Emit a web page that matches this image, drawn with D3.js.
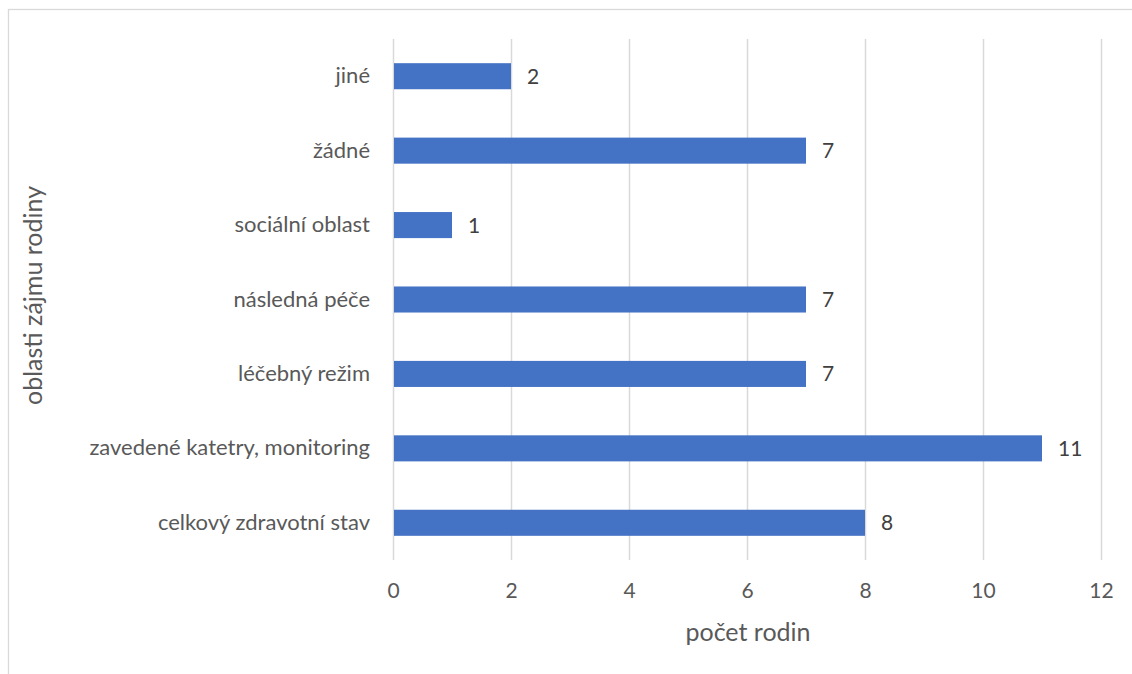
<!DOCTYPE html>
<html>
<head>
<meta charset="utf-8">
<script src="https://cdn.jsdelivr.net/npm/d3@7"></script>
<style>
  html, body { margin: 0; padding: 0; background: #fff; }
  svg { display: block; }
  text { font-family: Lato, "Open Sans", sans-serif; }
</style>
</head>
<body>
<svg id="chart" width="1132" height="674"></svg>
<script>
// Areas of family interest and number of families
const categories = [
  "jiné",
  "žádné",
  "sociální oblast",
  "následná péče",
  "léčebný režim",
  "zavedené katetry, monitoring",
  "celkový zdravotní stav"
];
const values = [2, 7, 1, 7, 7, 11, 8];
const xTicks = [0, 2, 4, 6, 8, 10, 12];
const xTitle = "počet rodin";
const yTitle = "oblasti zájmu rodiny";

const svg = d3.select("#chart");
const W = 1132, H = 674;
const margin = { left: 393, right: W - 1101, top: 39, bottom: H - 560 };
const plotW = W - margin.left - margin.right;
const plotH = H - margin.top - margin.bottom;
const FONT = "Lato, 'Open Sans', sans-serif";

// outer chart frame
svg.append("rect")
  .attr("x", 8.5).attr("y", 9.5)
  .attr("width", W).attr("height", H)
  .attr("fill", "none")
  .attr("stroke", "#d9d9d9")
  .attr("stroke-width", 1.3);

const g = svg.append("g").attr("transform", `translate(${margin.left},${margin.top})`);

const x = d3.scaleLinear().domain([0, 12]).range([0, plotW]);
const y = d3.scaleBand().domain(categories).range([0, plotH]).paddingInner(0.65).paddingOuter(0.325);

// vertical gridlines
g.append("g")
  .selectAll("line")
  .data(xTicks)
  .join("line")
  .attr("x1", d => Math.round(x(d)) + 0.5)
  .attr("x2", d => Math.round(x(d)) + 0.5)
  .attr("y1", 0)
  .attr("y2", plotH)
  .attr("stroke", "#d9d9d9")
  .attr("stroke-width", 1.5);

// bars
g.append("g")
  .selectAll("rect")
  .data(categories)
  .join("rect")
  .attr("x", x(0) + 1)
  .attr("y", d => y(d))
  .attr("width", (d, i) => x(values[i]) - x(0) - 1)
  .attr("height", y.bandwidth())
  .attr("fill", "#4472c4");

// value labels
g.append("g")
  .selectAll("text")
  .data(categories)
  .join("text")
  .attr("x", (d, i) => x(values[i]) + 16)
  .attr("y", d => y(d) + y.bandwidth() / 2)
  .attr("dy", "0.36em")
  .attr("fill", "#404040")
  .attr("font-size", 21)
  .text((d, i) => values[i]);

// x axis tick labels
const xAxis = d3.axisBottom(x).tickValues(xTicks).tickSize(0).tickPadding(23);
const xa = g.append("g").attr("transform", `translate(0,${plotH})`).call(xAxis);
xa.select(".domain").remove();
xa.selectAll("text").attr("fill", "#595959").attr("font-size", 21)
  .style("font-family", FONT);

// y axis category labels
const yAxis = d3.axisLeft(y).tickSize(0).tickPadding(23);
const ya = g.append("g").call(yAxis);
ya.select(".domain").remove();
ya.selectAll("text").attr("fill", "#595959").attr("font-size", 22)
  .style("font-family", FONT);

// axis titles
svg.append("text")
  .attr("x", margin.left + plotW / 2 + 1)
  .attr("y", 641)
  .attr("text-anchor", "middle")
  .attr("fill", "#595959")
  .attr("font-size", 25)
  .text(xTitle);

svg.append("text")
  .attr("transform", `translate(42,${margin.top + plotH / 2 - 4}) rotate(-90)`)
  .attr("text-anchor", "middle")
  .attr("fill", "#595959")
  .attr("font-size", 25)
  .text(yTitle);
</script>
</body>
</html>
